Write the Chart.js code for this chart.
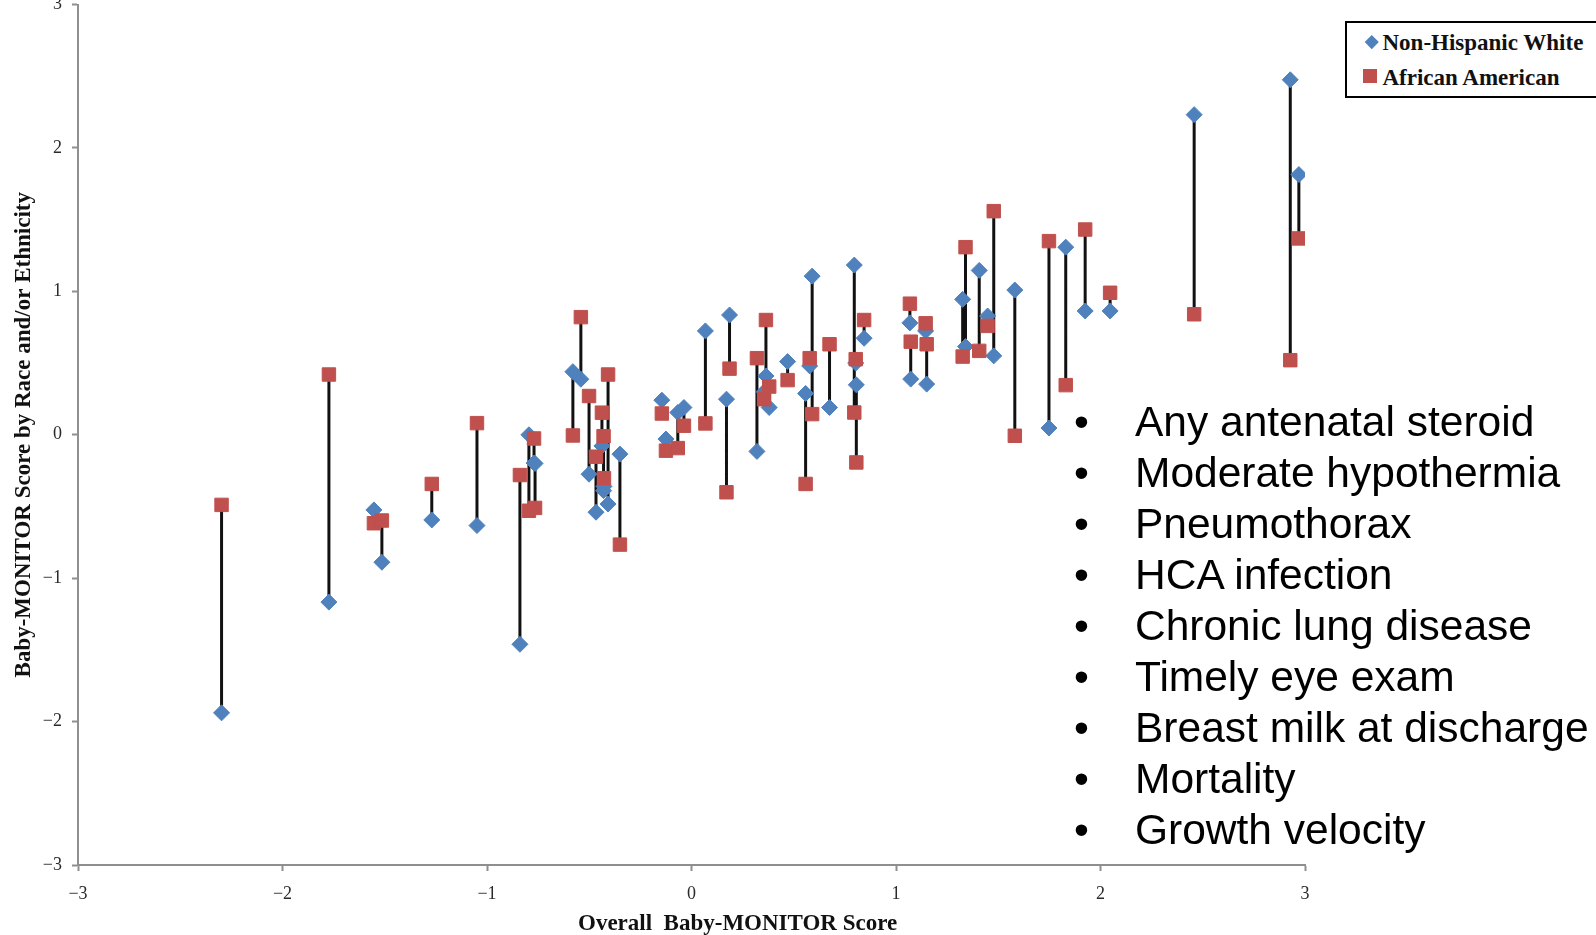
<!DOCTYPE html>
<html>
<head>
<meta charset="utf-8">
<script src="https://cdn.jsdelivr.net/npm/chart.js@4.4.1/dist/chart.umd.min.js"></script>
<style>
  html, body { margin: 0; padding: 0; background: #fff; overflow: hidden; }
  #wrap { position: relative; width: 1596px; height: 935px; overflow: hidden; }
  #c { position: absolute; left: 0; top: -6px; }
  .serifb { font-family: "Liberation Serif", "Times New Roman", serif; font-weight: bold; color: #111; }
  #xtitle { position: absolute; left: 578px; top: 909px; font-size: 23px; line-height: 27px; white-space: pre; }
  #legend { position: absolute; left: 1345px; top: 21px; width: 280px; height: 77px; box-sizing: border-box;
            border: 2.5px solid #000; background: #fff; }
  .lg-text { position: absolute; font-size: 23px; line-height: 27px; white-space: pre; }
  .mk { position: absolute; }
  .bl { position: absolute; font-family: "Liberation Sans", Arial, Helvetica, sans-serif; font-size: 42.5px;
        line-height: 51px; color: #000; white-space: pre; }
</style>
</head>
<body>
<div id="wrap">
  <canvas id="c" width="1596" height="941"></canvas>
  <div id="xtitle" class="serifb"></div>
  <div id="legend"></div>
  <div id="bullets"></div>
</div>
<script>
// ---- data ----
const overallScore = [
  -2.298, -1.773, -1.553, -1.514, -1.270, -1.049, -0.839, -0.795, -0.770, -0.765,
  -0.580, -0.541, -0.501, -0.408, -0.438, -0.430, -0.467, -0.428, -0.350,
  -0.145, -0.125, -0.067, -0.037, 0.068, 0.186, 0.171, 0.320, 0.355, 0.364, 0.380,
  0.470, 0.558, 0.578, 0.590, 0.675, 0.796, 0.803, 0.806, 0.844,
  1.068, 1.072, 1.150, 1.145, 1.326, 1.340, 1.407, 1.448, 1.478, 1.581, 1.748,
  1.830, 1.925, 2.047, 2.458, 2.928, 2.970
];
const whiteScores = [
  -1.939, -1.167, -0.524, -0.889, -0.594, -0.633, -1.461, 0.000, -0.197, -0.200,
  0.440, 0.387, -0.275, -0.483, -0.078, -0.390, -0.540, -0.360, -0.135,
  0.241, -0.030, 0.155, 0.190, 0.724, 0.835, 0.248, -0.116, 0.300, 0.410, 0.190,
  0.510, 0.288, 0.480, 1.106, 0.190, 1.183, 0.500, 0.348, 0.673,
  0.780, 0.388, 0.353, 0.724, 0.944, 0.615, 1.146, 0.828, 0.550, 1.009, 0.047,
  1.308, 0.863, 0.863, 2.232, 2.475, 1.814
];
const africanAmericanScores = [
  -0.489, 0.420, -0.617, -0.598, -0.343, 0.081, -0.281, -0.530, -0.026, -0.510,
  -0.005, 0.820, 0.270, 0.420, 0.154, -0.010, -0.153, -0.303, -0.766,
  0.148, -0.111, -0.093, 0.063, 0.079, 0.461, -0.401, 0.534, 0.248, 0.800, 0.336,
  0.381, -0.343, 0.534, 0.144, 0.631, 0.155, 0.527, -0.193, 0.800,
  0.914, 0.649, 0.631, 0.777, 0.545, 1.308, 0.585, 0.759, 1.559, -0.007, 1.350,
  0.346, 1.431, 0.990, 0.840, 0.520, 1.369
];
const seriesNames = ["Non-Hispanic White", "African American"];
const tickLabels = ["\u22123", "\u22122", "\u22121", "0", "1", "2", "3"];
const xAxisTitle = "Overall  Baby-MONITOR Score";
const yAxisTitle = "Baby-MONITOR Score by Race and/or Ethnicity";
const bulletItems = [
  "Any antenatal steroid", "Moderate hypothermia", "Pneumothorax", "HCA infection",
  "Chronic lung disease", "Timely eye exam", "Breast milk at discharge", "Mortality", "Growth velocity"
];

// ---- colours / styles ----
const BLUE = "#4F81BD";
const RED = "#C0504D";
const AXIS = "#8f8f8f";
const SERIF = '"Liberation Serif", "Times New Roman", serif';

// ---- build datasets from arrays ----
const whitePts = overallScore.map((x, i) => ({ x: x, y: whiteScores[i] }));
const aaPts = overallScore.map((x, i) => ({ x: x, y: africanAmericanScores[i] }));
const connectorPts = [];
overallScore.forEach((x, i) => {
  connectorPts.push({ x: x, y: whiteScores[i] });
  connectorPts.push({ x: x, y: africanAmericanScores[i] });
  connectorPts.push({ x: x, y: null });
});

const tickCb = (v) => {
  const idx = Math.round(v) + 3;
  return (Math.abs(v - Math.round(v)) < 1e-9 && tickLabels[idx] !== undefined) ? tickLabels[idx] : "";
};

new Chart(document.getElementById("c"), {
  type: "scatter",
  data: {
    datasets: [
      { type: "line", label: "connectors", data: connectorPts, borderColor: "#111", borderWidth: 3,
        pointRadius: 0, spanGaps: false, fill: false, tension: 0, order: 3 },
      { label: seriesNames[0], data: whitePts, pointStyle: "rectRot", pointRadius: 8,
        backgroundColor: BLUE, borderColor: BLUE, borderWidth: 1, order: 2 },
      { label: seriesNames[1], data: aaPts, pointStyle: "rect", pointRadius: 9.5,
        backgroundColor: RED, borderColor: RED, borderWidth: 1, order: 1 }
    ]
  },
  options: {
    responsive: false,
    animation: false,
    events: [],
    layout: { padding: { top: 2, right: 291, left: 0, bottom: 0 } },
    plugins: { legend: { display: false }, tooltip: { enabled: false } },
    scales: {
      x: {
        type: "linear", position: "bottom", min: -3, max: 3,
        ticks: { stepSize: 1, padding: 12, color: "#2a2a2a", font: { family: SERIF, size: 18 }, callback: tickCb,
                 maxRotation: 0, autoSkip: false },
        grid: { drawOnChartArea: false, drawTicks: true, tickLength: 6, tickColor: AXIS, tickWidth: 2 },
        border: { display: true, color: AXIS, width: 2 },
        afterFit: (s) => { s.height = 70; s.paddingLeft = 0; s.paddingRight = 0; }
      },
      y: {
        type: "linear", position: "left", min: -3, max: 3,
        ticks: { stepSize: 1, padding: 10, color: "#2a2a2a", font: { family: SERIF, size: 18 }, callback: tickCb },
        grid: { drawOnChartArea: false, drawTicks: true, tickLength: 6, tickColor: AXIS, tickWidth: 2 },
        border: { display: true, color: AXIS, width: 2 },
        title: { display: true, text: yAxisTitle, color: "#111",
                 font: { family: SERIF, size: 23, weight: "bold" }, padding: { top: 10, bottom: 0 } },
        afterFit: (s) => { s.width = 78; s.paddingTop = 0; s.paddingBottom = 0; }
      }
    }
  }
});

// ---- HTML text: axis title, legend, bullet list ----
document.getElementById("xtitle").textContent = xAxisTitle;

const lg = document.getElementById("legend");
function addAbs(parent, html, style, cls) {
  const d = document.createElement("div");
  if (cls) d.className = cls;
  d.style.cssText = style;
  if (html !== null) d.textContent = html;
  parent.appendChild(d);
  return d;
}
// legend box is at (1345,21); children positioned relative to inner padding box (border 2.5)
const bx = 1345 + 2.5, by = 21 + 2.5;
addAbs(lg, null, `left:${1372 - bx - 4.75}px; top:${42 - by - 4.75}px; width:9.5px; height:9.5px; background:${BLUE}; transform:rotate(45deg);`, "mk");
addAbs(lg, null, `left:${1370.3 - bx - 7}px; top:${76 - by - 7}px; width:14px; height:14px; background:${RED};`, "mk");
addAbs(lg, seriesNames[0], `left:${1383 - bx}px; top:${29 - by}px;`, "lg-text serifb");
addAbs(lg, seriesNames[1], `left:${1383 - bx}px; top:${64 - by}px;`, "lg-text serifb");

const bl = document.getElementById("bullets");
bulletItems.forEach((t, i) => {
  addAbs(bl, "\u2022", `left:1074px; top:${396 + 51 * i}px;`, "bl");
  addAbs(bl, t, `left:1135px; top:${396 + 51 * i}px;`, "bl");
});
</script>
</body>
</html>
